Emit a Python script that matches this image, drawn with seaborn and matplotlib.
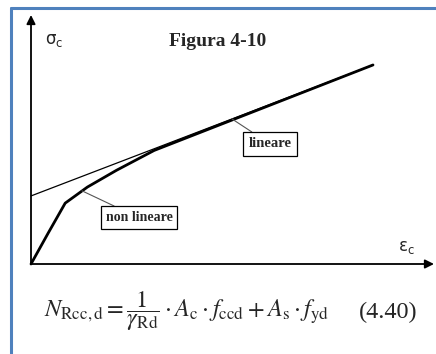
import matplotlib
matplotlib.use('Agg')
import matplotlib.pyplot as plt
import seaborn as sns
from matplotlib.lines import Line2D

sns.set_theme(style='white')
plt.rcParams['font.family'] = ['Liberation Serif', 'DejaVu Serif']
plt.rcParams['mathtext.fontset'] = 'stix'

# --- data (arbitrary strain / stress units) ---
eps_nonlin = [0.0, 0.5, 1.0, 1.65, 2.5, 3.6, 10.0]
sig_nonlin = [0.0, 0.9, 1.78, 2.25, 2.74, 3.32, 5.82]
eps_lin = [0.0, 10.0]
sig_lin = [1.99, 5.82]

TITLE = "Figura 4-10"
LABEL_LIN = "lineare"
LABEL_NONLIN = "non lineare"

W, H = 436, 354
OX, OY, S = 31, 264, 34.2   # origin pixel and px per unit

fig = plt.figure(figsize=(W / 100, H / 100), dpi=100)
fig.patch.set_facecolor('white')
ax = fig.add_axes([0, 0, 1, 1])
ax.set_xlim(-OX / S, (W - OX) / S)
ax.set_ylim(-(H - OY) / S, OY / S)
ax.axis('off')

sns.lineplot(x=eps_lin, y=sig_lin, ax=ax, color='black', lw=0.9, sort=False)
sns.lineplot(x=eps_nonlin, y=sig_nonlin, ax=ax, color='black', lw=2.0, sort=False)

# axes arrows
arrow = dict(arrowstyle='-|>', color='black', lw=1.3, mutation_scale=13, shrinkA=0, shrinkB=0)
ax.annotate('', xy=(0, (OY - 15) / S), xytext=(0, 0), arrowprops=arrow)
ax.annotate('', xy=((434 - OX) / S, 0), xytext=(0, 0), arrowprops=arrow)

# labels with leader lines
box = dict(boxstyle='square,pad=0.35', fc='white', ec='black', lw=0.9)
lead = dict(arrowstyle='-', color='#555555', lw=0.8, shrinkA=0, shrinkB=0)
ax.annotate(LABEL_LIN, xy=(5.88, 4.24), xytext=(6.99, 3.51), ha='center', va='center',
            fontsize=10.5, fontweight='bold', bbox=box, arrowprops=lead)
ax.annotate(LABEL_NONLIN, xy=(1.49, 2.14), xytext=(3.16, 1.35), ha='center', va='center',
            fontsize=10, fontweight='bold', bbox=box, arrowprops=lead)

# texts
fig.text(218 / W, 1 - 42 / H, TITLE, ha='center', va='center', fontsize=14, fontweight='bold')
fig.text(45 / W, 1 - 40 / H, r'$\mathregular{\sigma_c}$', ha='left', va='center', fontsize=12,
         family='DejaVu Sans')
fig.text(398 / W, 1 - 247 / H, r'$\mathregular{\epsilon_c}$', ha='left', va='center', fontsize=12,
         family='DejaVu Sans')

formula = (r'$N_{\mathrm{Rcc,d}} = \dfrac{1}{\gamma_{\mathrm{Rd}}}\cdot A_{\mathrm{c}}\cdot '
           r'f_{\mathrm{ccd}} + A_{\mathrm{s}}\cdot f_{\mathrm{yd}}$')
fig.text(44 / W, 1 - 311 / H, formula, ha='left', va='center', fontsize=17.5)
fig.text(417 / W, 1 - 312 / H, '(4.40)', ha='right', va='center', fontsize=17.5)

# blue frame (left and top)
blue = '#4f81bd'
fig.add_artist(Line2D([11 / W, 11 / W], [0, 1 - 7.5 / H], color=blue, lw=2.2))
fig.add_artist(Line2D([11 / W, 1], [1 - 7.5 / H, 1 - 7.5 / H], color=blue, lw=2.2))

fig.savefig('out.png', dpi=100, facecolor='white')
